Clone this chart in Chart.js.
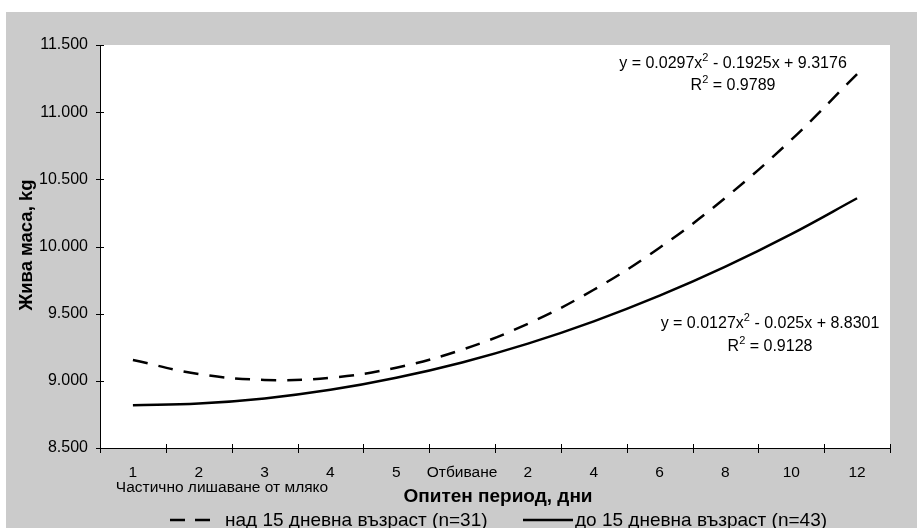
<!DOCTYPE html>
<html>
<head>
<meta charset="utf-8">
<script src="https://cdn.jsdelivr.net/npm/chart.js@4.4.1/dist/chart.umd.min.js"></script>
<style>
  html, body { margin: 0; padding: 0; background: #ffffff; }
  #wrap { width: 917px; height: 528px; }
</style>
</head>
<body>
<div id="wrap"><canvas id="c" width="917" height="528"></canvas></div>
<script>
// Experimental period: days of partial milk withdrawal, weaning, then days after weaning
const categories = ['1', '2', '3', '4', '5', 'Отбиване', '2', '4', '6', '8', '10', '12'];

// Live weight, kg (trend values per period)
const over15Days = [9.155, 9.051, 9.007, 9.023, 9.098, 9.232, 9.425, 9.678, 9.991, 10.363, 10.794, 11.284];
const under15Days = [8.818, 8.831, 8.869, 8.933, 9.023, 9.137, 9.277, 9.443, 9.634, 9.850, 10.092, 10.359];

const seriesNames = ['над 15 дневна възраст (n=31)', 'до 15 дневна възраст (n=43)'];

const trendText = [
  { eq: ['y = 0.0297x', '2', ' - 0.1925x + 9.3176'], r2: ['R', '2', ' = 0.9789'] },
  { eq: ['y = 0.0127x', '2', ' - 0.025x + 8.8301'], r2: ['R', '2', ' = 0.9128'] }
];

const yTicks = [8.5, 9.0, 9.5, 10.0, 10.5, 11.0, 11.5];

const FONT = '"Liberation Sans", Arial, sans-serif';
const GRAY = '#cbcbcb';

function drawSup(ctx, parts, cx, y, size) {
  const big = size + 'px ' + FONT;
  const small = Math.round(size * 0.68) + 'px ' + FONT;
  ctx.font = big; const w0 = ctx.measureText(parts[0]).width;
  const w2 = ctx.measureText(parts[2]).width;
  ctx.font = small; const w1 = ctx.measureText(parts[1]).width;
  let x = cx - (w0 + w1 + w2) / 2;
  ctx.textAlign = 'left'; ctx.textBaseline = 'alphabetic';
  ctx.font = big; ctx.fillText(parts[0], x, y); x += w0;
  ctx.font = small; ctx.fillText(parts[1], x, y - size * 0.42); x += w1;
  ctx.font = big; ctx.fillText(parts[2], x, y);
}

const frame = {
  id: 'frame',
  beforeDraw(chart) {
    const ctx = chart.ctx, a = chart.chartArea;
    ctx.save();
    ctx.fillStyle = '#ffffff';
    ctx.fillRect(0, 0, chart.width, chart.height);
    ctx.fillStyle = GRAY;
    ctx.fillRect(6, 12, chart.width - 6, chart.height - 12);
    ctx.fillStyle = '#ffffff';
    ctx.fillRect(a.left, a.top, a.right - a.left, a.bottom - a.top);
    ctx.restore();
  },
  afterDraw(chart) {
    const ctx = chart.ctx, a = chart.chartArea;
    const ys = chart.scales.y;
    ctx.save();
    ctx.strokeStyle = '#000000';
    ctx.lineWidth = 1;
    // tick marks crossing the axes
    ctx.beginPath();
    yTicks.forEach(v => {
      const py = Math.round(ys.getPixelForValue(v)) + 0.5;
      ctx.moveTo(a.left - 4, py); ctx.lineTo(a.left + 4, py);
    });
    const step = (a.right - a.left) / categories.length;
    for (let i = 0; i <= categories.length; i++) {
      const px = Math.round(a.left + i * step) + 0.5;
      ctx.moveTo(px, a.bottom - 4); ctx.lineTo(px, a.bottom + 5);
    }
    ctx.stroke();

    ctx.fillStyle = '#000000';
    // secondary category caption
    ctx.font = '15.5px ' + FONT;
    ctx.textAlign = 'center'; ctx.textBaseline = 'alphabetic';
    ctx.fillText('Частично лишаване от мляко', 222, 492);

    // axis titles
    ctx.font = 'bold 19px ' + FONT;
    ctx.fillText('Опитен период, дни', 498, 502);
    ctx.save();
    ctx.translate(32, 245);
    ctx.rotate(-Math.PI / 2);
    ctx.font = 'bold 18.5px ' + FONT;
    ctx.fillText('Жива маса, kg', 0, 0);
    ctx.restore();

    // trend equations
    drawSup(ctx, trendText[0].eq, 733, 68, 16);
    drawSup(ctx, trendText[0].r2, 733, 90, 16);
    drawSup(ctx, trendText[1].eq, 770, 328, 16);
    drawSup(ctx, trendText[1].r2, 770, 351, 16);

    // legend
    const ly = 520;
    ctx.lineWidth = 2.5;
    ctx.setLineDash([15, 10]);
    ctx.beginPath(); ctx.moveTo(170, ly); ctx.lineTo(212, ly); ctx.stroke();
    ctx.setLineDash([]);
    ctx.beginPath(); ctx.moveTo(523, ly); ctx.lineTo(573, ly); ctx.stroke();
    ctx.font = '19px ' + FONT;
    ctx.textAlign = 'left'; ctx.textBaseline = 'alphabetic';
    ctx.fillText(seriesNames[0], 225, 526);
    ctx.fillText(seriesNames[1], 575, 526);
    ctx.restore();
  }
};

new Chart(document.getElementById('c'), {
  type: 'line',
  data: {
    labels: categories,
    datasets: [
      {
        label: seriesNames[0],
        data: over15Days,
        borderColor: '#000000',
        borderWidth: 2.5,
        borderDash: [15, 11],
        pointRadius: 0,
        fill: false,
        tension: 0.4
      },
      {
        label: seriesNames[1],
        data: under15Days,
        borderColor: '#000000',
        borderWidth: 2.5,
        pointRadius: 0,
        fill: false,
        tension: 0.4
      }
    ]
  },
  options: {
    responsive: false,
    animation: false,
    layout: { padding: { left: 0, top: 45, right: 27, bottom: 0 } },
    plugins: { legend: { display: false }, tooltip: { enabled: false }, title: { display: false } },
    scales: {
      x: {
        type: 'category',
        offset: true,
        grid: { display: false, drawTicks: false },
        border: { display: true, color: '#000000', width: 1 },
        ticks: { color: '#000000', font: { family: FONT, size: 15.5 }, padding: 15, maxRotation: 0, autoSkip: false },
        afterFit(s) { s.height = 80; }
      },
      y: {
        min: 8.5,
        max: 11.5,
        afterBuildTicks(s) { s.ticks = yTicks.map(v => ({ value: v })); },
        grid: { display: false, drawTicks: false },
        border: { display: true, color: '#000000', width: 1 },
        ticks: { color: '#000000', font: { family: FONT, size: 16 }, padding: 12,
                 callback: v => Number(v).toFixed(3) },
        afterFit(s) { s.width = 100; }
      }
    }
  },
  plugins: [frame]
});
</script>
</body>
</html>
